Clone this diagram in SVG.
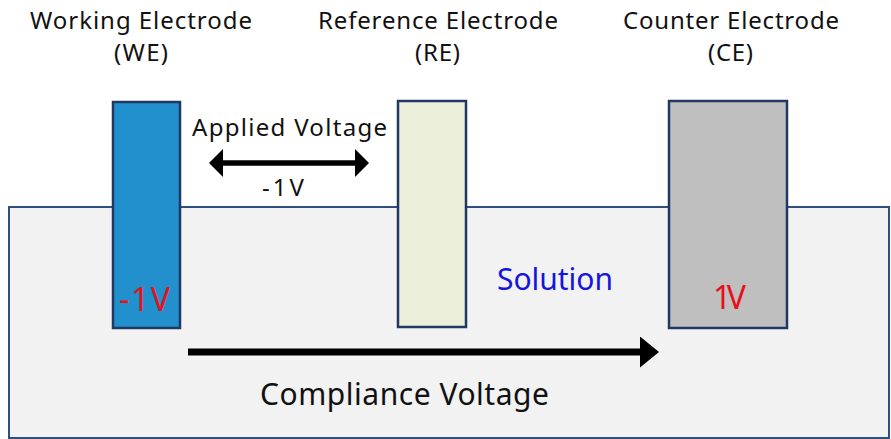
<svg xmlns="http://www.w3.org/2000/svg" width="891" height="439" viewBox="0 0 891 439">
<style>
.t{font-family:"Noto Sans","Open Sans",sans-serif;fill:#111}
.h{font-size:24px}
.red{fill:#E8101A;font-size:32px}
.el{stroke:#1F3864;stroke-width:2.5}
</style>
<defs>
<marker id="ah" viewBox="0 0 14 28" refX="0" refY="14" markerWidth="14" markerHeight="28" orient="auto-start-reverse" markerUnits="userSpaceOnUse"><path d="M0,0 L14,14 L0,28 Z" fill="#000"/></marker>
<marker id="ah2" viewBox="0 0 19 31" refX="0" refY="15.5" markerWidth="19" markerHeight="31" orient="auto" markerUnits="userSpaceOnUse"><path d="M0,0 L19,15.5 L0,31 Z" fill="#000"/></marker>
</defs>
<rect width="891" height="439" fill="#fff"/>
<g id="solution">
<rect x="9" y="207" width="880" height="231" fill="#F2F2F2" stroke="#2F4F7F" stroke-width="2"/>
<text class="t" x="497" y="290" font-size="30" textLength="116" style="fill:#1515E0">Solution</text>
</g>
<g id="we">
<rect class="el" x="113" y="102" width="67" height="226" fill="#2290CC"/>
<text class="t red" x="119" y="311" textLength="51">-1V</text>
<text class="t h" x="30" y="29" textLength="222">Working Electrode</text>
<text class="t h" x="114" y="61" textLength="54">(WE)</text>
</g>
<g id="re">
<rect class="el" x="398" y="101" width="68" height="226" fill="#EBEFD9"/>
<text class="t h" x="318" y="29" textLength="240">Reference Electrode</text>
<text class="t h" x="415" y="61" textLength="45">(RE)</text>
</g>
<g id="ce">
<rect class="el" x="669" y="101" width="118" height="227" fill="#BFBFBF"/>
<text class="t red" x="713" y="309" textLength="33">1V</text>
<text class="t h" x="623" y="29" textLength="216">Counter Electrode</text>
<text class="t h" x="708" y="61" textLength="45">(CE)</text>
</g>
<g id="connectors">
<line x1="223" y1="163" x2="355" y2="163" stroke="#000" stroke-width="5.5" marker-start="url(#ah)" marker-end="url(#ah)"/>
<text class="t h" x="192" y="136" textLength="195">Applied Voltage</text>
<text class="t h" x="262" y="196" textLength="42">-1V</text>
<line x1="188" y1="352" x2="640" y2="352" stroke="#000" stroke-width="7" marker-end="url(#ah2)"/>
<text class="t" x="260" y="405" font-size="30" textLength="289">Compliance Voltage</text>
</g>
</svg>
